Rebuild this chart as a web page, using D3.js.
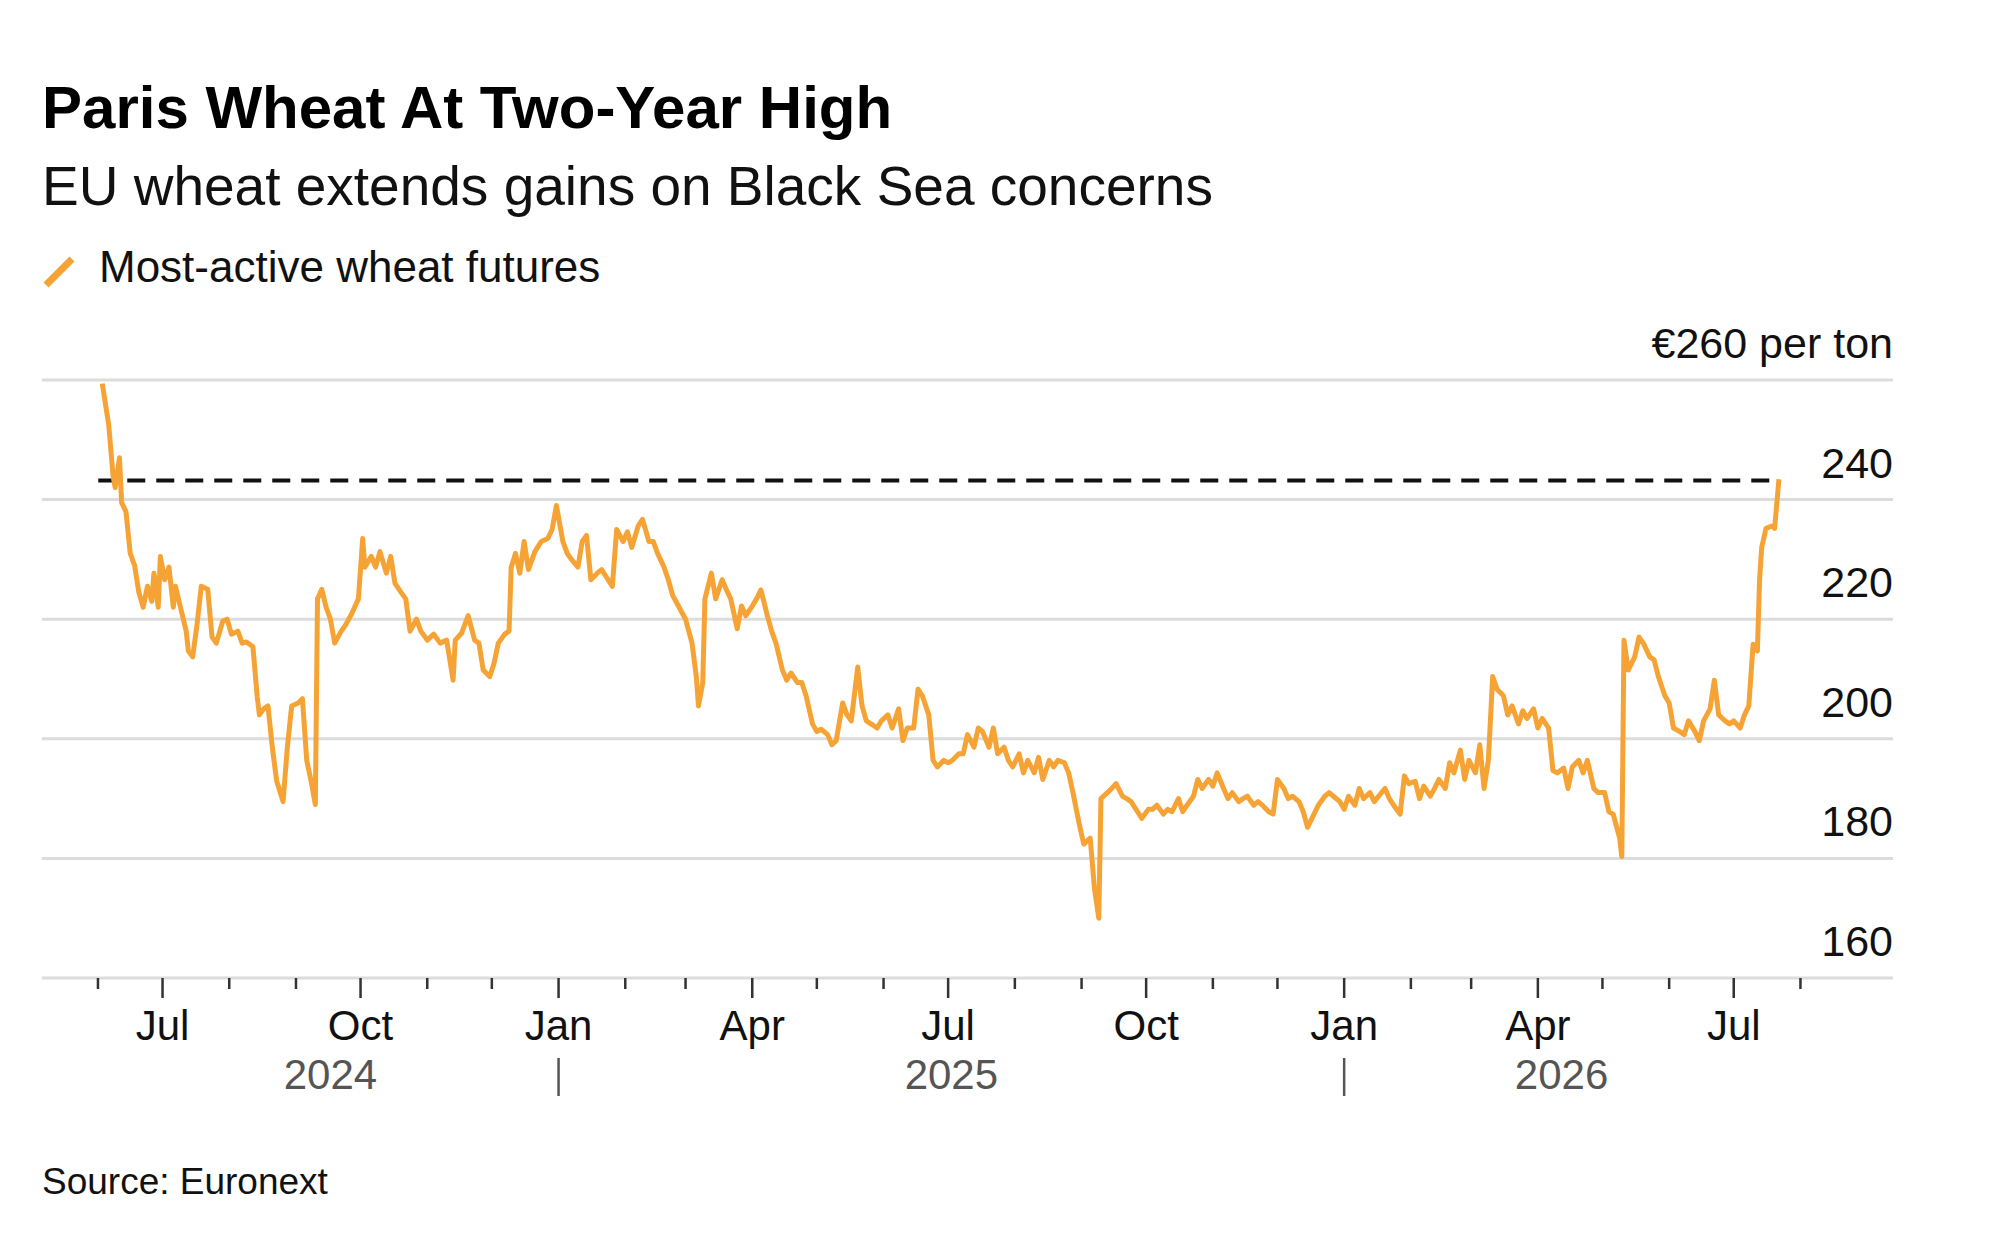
<!DOCTYPE html>
<html><head><meta charset="utf-8">
<script src="https://cdn.jsdelivr.net/npm/d3@7"></script>
<style>body{margin:0;background:#fff}svg{display:block}text{font-family:"Liberation Sans",Arial,sans-serif}</style>
</head><body>
<script>
const baseDate = "2024-07-01";
const dayOffsets = [-28,-25,-23,-22,-20,-19,-17,-15,-13,-11,-9,-7,-5,-4,-2,-1,1,3,5,6,9,11,12,14,16,18,21,23,25,28,30,32,35,37,39,42,44,45,47,49,51,53,56,58,60,63,65,67,69,71,72,74,76,78,80,83,85,88,91,93,94,97,99,101,104,106,108,111,113,115,118,120,123,126,129,132,135,136,139,142,145,147,149,152,154,156,159,161,162,164,166,168,170,173,176,179,181,183,186,188,190,193,195,197,199,202,204,207,209,211,214,216,218,221,223,226,228,230,233,235,237,240,243,246,248,249,251,252,255,257,260,262,264,267,269,271,274,276,278,281,283,285,288,290,292,295,297,299,302,304,306,309,311,313,316,318,320,323,325,327,330,332,334,337,339,342,344,346,349,351,353,356,358,360,363,365,367,370,372,374,377,379,381,384,386,388,391,393,395,398,400,402,405,407,409,412,414,416,419,421,423,426,428,431,433,435,436,439,441,443,446,448,450,453,455,458,460,462,465,467,469,472,474,476,479,481,483,486,488,490,493,495,497,500,502,504,507,509,511,514,516,518,521,523,525,528,530,532,535,537,540,542,544,547,549,551,554,556,558,561,563,565,568,570,572,575,577,579,582,584,586,589,591,593,596,598,600,603,605,607,610,612,614,616,618,620,623,625,627,630,632,634,637,639,641,644,646,648,651,653,655,658,660,662,665,667,670,672,674,677,678,679,681,684,686,688,691,693,695,698,700,702,705,707,709,712,714,716,719,721,723,726,728,730,733,735,737,739,741,742,743,745,748,749,751];
const prices = [259.4,252.5,244,242,247,239.5,238,231,229,224.5,222,225.5,223,227.7,222,230.5,226.6,228.7,222,225.5,221,218,214.7,213.7,219,225.5,225,217,216,219.7,220,217.5,218,216,216.2,215.4,207,204,205,205.5,198.6,193,189.5,198.6,205.5,206,206.7,196.4,193,189,223.4,225,222,220,216,218,219,221,223.4,233.5,228.7,230.5,228.7,231.3,227.7,230.5,226,224.4,223.4,218,220,218,216.5,217.5,216,216.5,209.8,216.5,217.7,220.6,216.5,216,211.5,210.4,212.6,216,217.5,218,228.7,231,227.7,233,228.3,231.3,233,233.5,235,239,233,231,230,228.7,233,234,226.6,227.7,228.3,226.6,225.5,235,233,234.6,232,235.6,236.7,233,233,231,228.7,226.6,224,222,220,216,210.4,205.5,209.4,223.4,227.7,223.4,226.6,224.9,223.4,218.4,222.2,220.6,222.2,223.4,224.9,220.6,218,216,211.5,209.8,211,209.4,209.4,207.2,202.5,201.2,201.6,200.7,199,199.7,206,204,203,212,205.5,203,202.3,201.8,203,204,201.8,205,199.7,201.8,201.8,208.3,207.2,204,196.4,195.3,196.4,196,196.4,197.5,197.5,200.7,198.6,201.8,201.2,198.6,201.8,197.5,198.6,196.4,195.3,197.5,194.3,196.4,194.3,196.9,193.2,196.4,195.3,196.4,196,194.3,191,185.6,182.4,183.4,174.9,170,190,191,191.7,192.5,190.4,190,189.5,187.8,186.7,188.2,188.2,188.9,187.4,188.2,187.8,190,187.8,188.9,190.4,193.2,191.7,193.2,192.1,194.3,191.7,190,191,189.5,190,190.4,188.9,189.5,188.9,187.8,187.4,193.2,191.7,190,190.4,189.5,187.8,185.2,187.4,188.9,190.4,191,190.4,189.5,188.2,190.4,188.9,191.7,190,191,189.5,190.4,191.7,190,188.9,187.4,193.8,192.5,192.9,190,192.1,190.4,191.7,193.2,191.7,196,194.3,198.1,193.2,196.4,194.3,199,191.7,196.4,210.4,208.3,207.2,204,205.5,202.5,204.7,203.4,205,201.8,203.4,201.8,194.7,194.3,195.1,191.7,195.3,196.4,194.3,196.4,191.7,191,191,187.8,187.4,183.4,180.3,216.5,211.5,213.7,217,216,213.7,213.2,210.4,207.2,206,201.8,201.2,200.7,203,201.2,199.7,203,205,209.8,204,203,202.5,203,201.8,204,205.5,215.8,214.7,226.6,232,235.2,235.6,235.2,243.4];
const twoYearHigh = 243.2;
const yTicks = [160,180,200,220,240,260];
const yearLabels = ["2024","2025","2026"];
const title = "Paris Wheat At Two-Year High";
const subtitle = "EU wheat extends gains on Black Sea concerns";
const legendLabel = "Most-active wheat futures";
const unitLabel = "€260 per ton";
const source = "Source: Euronext";

const W=2000,H=1241, L=42, R=1893, T=380, B=978;
const base = d3.isoParse(baseDate+"T00:00:00");
const data = dayOffsets.map((d,i)=>({date:d3.timeDay.offset(base,d), v:prices[i]}));
const svg = d3.select("body").append("svg").attr("width",W).attr("height",H);

const x = d3.scaleTime().domain([new Date(2024,4,6), new Date(2026,8,13)]).range([L,R]);
const y = d3.scaleLinear().domain([160,260]).range([B,T]);

svg.append("text").attr("x",42).attr("y",128).attr("font-size",60).attr("font-weight","bold").attr("fill","#000").text(title);
svg.append("text").attr("x",42).attr("y",205).attr("font-size",55).attr("fill","#111").text(subtitle);
svg.append("line").attr("x1",46).attr("y1",285).attr("x2",72).attr("y2",259).attr("stroke","#f6a336").attr("stroke-width",7);
svg.append("text").attr("x",99).attr("y",282).attr("font-size",44).attr("fill","#111").text(legendLabel);

// grid
svg.append("g").selectAll("line").data(yTicks).join("line")
  .attr("x1",L).attr("x2",R).attr("y1",d=>y(d)).attr("y2",d=>y(d))
  .attr("stroke","#dcdcdc").attr("stroke-width",3);
svg.append("g").selectAll("text").data(yTicks).join("text")
  .attr("x",R).attr("y",d=>y(d)-22).attr("text-anchor","end").attr("font-size",43).attr("fill","#111")
  .text(d=>d===260?unitLabel:d);

// x ticks
const months = d3.timeMonth.range(new Date(2024,5,1), new Date(2026,7,2));
svg.append("g").selectAll("line").data(months).join("line")
  .attr("x1",d=>x(d)).attr("x2",d=>x(d)).attr("y1",B)
  .attr("y2",d=>B+(d.getMonth()%3===0?20:11))
  .attr("stroke","#333").attr("stroke-width",2.5);
const quarters = months.filter(d=>d.getMonth()%3===0);
const mfmt = d3.timeFormat("%b");
svg.append("g").selectAll("text").data(quarters).join("text")
  .attr("x",d=>x(d)).attr("y",1040).attr("text-anchor","middle").attr("font-size",42).attr("fill","#111")
  .text(d=>mfmt(d));
const first = data[0].date, last = data[data.length-1].date;
const yearSpans = yearLabels.map(s=>{const yr=+s; const a=d3.max([first,new Date(yr,0,1)]); const b=d3.min([last,new Date(yr+1,0,1)]); return {s,a,b};});
svg.append("g").selectAll("text").data(yearSpans).join("text")
  .attr("x",d=>(x(d.a)+x(d.b))/2).attr("y",1089).attr("text-anchor","middle").attr("font-size",42).attr("fill","#555")
  .text(d=>d.s);
svg.append("g").selectAll("line").data([new Date(2025,0,1),new Date(2026,0,1)]).join("line")
  .attr("x1",d=>x(d)).attr("x2",d=>x(d)).attr("y1",1058).attr("y2",1096)
  .attr("stroke","#555").attr("stroke-width",2.5);

// dashed line
svg.append("line").attr("x1",x(first)-4).attr("x2",x(last)).attr("y1",y(twoYearHigh)).attr("y2",y(twoYearHigh))
  .attr("stroke","#111").attr("stroke-width",4).attr("stroke-dasharray","18,11");

svg.append("path").datum(data)
  .attr("d",d3.line().x(d=>x(d.date)).y(d=>y(d.v)))
  .attr("fill","none").attr("stroke","#f6a336").attr("stroke-width",5).attr("stroke-linejoin","round");

svg.append("text").attr("x",42).attr("y",1194).attr("font-size",37).attr("fill","#111").text(source);
</script>
</body></html>
